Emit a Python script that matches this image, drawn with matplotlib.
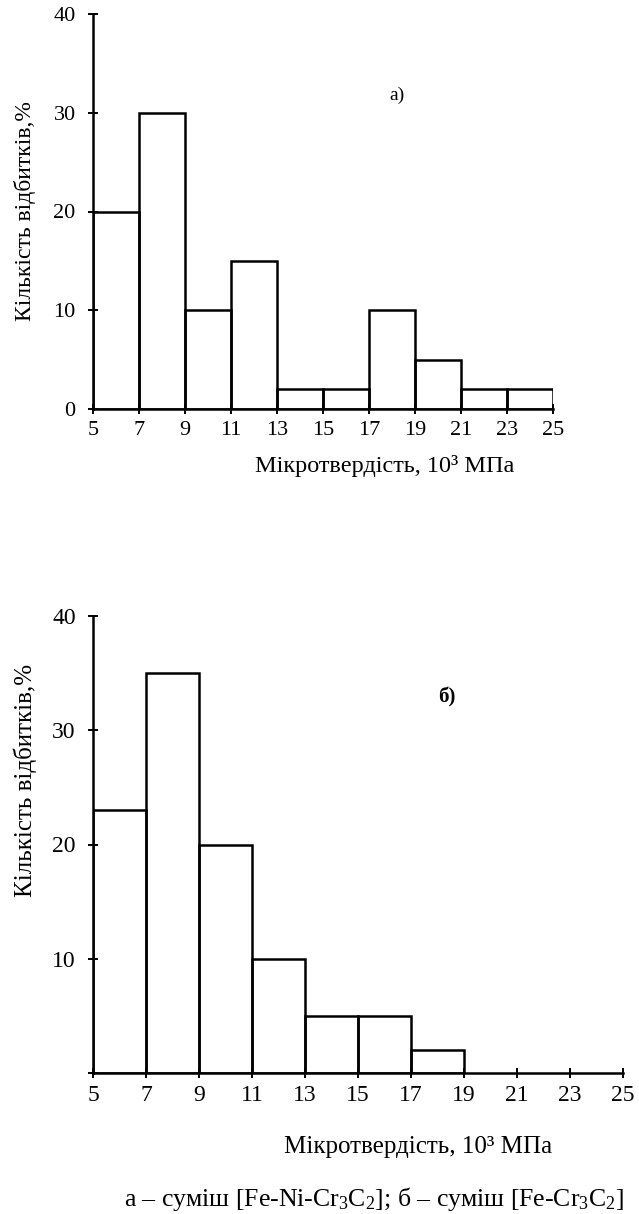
import matplotlib
matplotlib.use("Agg")
import matplotlib.pyplot as plt

plt.rcParams['font.family'] = ['Liberation Serif', 'DejaVu Serif']
plt.rcParams['mathtext.fontset'] = 'custom'
plt.rcParams['mathtext.rm'] = 'Liberation Serif'
plt.rcParams['mathtext.default'] = 'regular'

# Data
bin_edges = [5, 7, 9, 11, 13, 15, 17, 19, 21, 23, 25]
values_a = [20, 30, 10, 15, 2, 2, 10, 5, 2, 2]
values_b = [23, 35, 20, 10, 5, 5, 2, 0, 0, 0]
x_ticks = [5, 7, 9, 11, 13, 15, 17, 19, 21, 23, 25]
y_ticks = [0, 10, 20, 30, 40]
y_ticklabels_a = ['0', '10', '20', '30', '40']
y_ticklabels_b = ['', '10', '20', '30', '40']
xlabel = 'Мікротвердість, 10³ МПа'
ylabel = 'Кількість відбитків,%'
caption = 'а – суміш [Fe-Ni-Cr$_3$C$_2$]; б – суміш [Fe-Cr$_3$C$_2$]'

W, H = 639, 1214
fig = plt.figure(figsize=(W / 100, H / 100), dpi=100)
fig.patch.set_facecolor('white')


def px_axes(x0, y_top, x1, y_bot):
    return fig.add_axes([x0 / W, 1 - y_bot / H, (x1 - x0) / W, (y_bot - y_top) / H])


def style(ax, values, yticklabels, fs):
    widths = [bin_edges[i + 1] - bin_edges[i] for i in range(len(values))]
    lefts = bin_edges[:-1]
    ax.bar([l for l, v in zip(lefts, values) if v > 0],
           [v for v in values if v > 0],
           width=[w for w, v in zip(widths, values) if v > 0],
           align='edge', fill=False, edgecolor='black', linewidth=1.8,
           zorder=3)
    ax.set_xlim(5, 25)
    ax.set_ylim(0, 40)
    for s in ['top', 'right']:
        ax.spines[s].set_visible(False)
    for s in ['left', 'bottom']:
        ax.spines[s].set_linewidth(1.8)
    ax.set_xticks(x_ticks)
    ax.set_xticklabels([str(t) for t in x_ticks])
    ax.set_yticks(y_ticks)
    ax.set_yticklabels(yticklabels)
    ax.tick_params(direction='inout', length=7, width=1.4, labelsize=fs,
                   pad=5)
    ax.tick_params(axis='y', pad=9)
    ax.set_facecolor('none')


ax1 = px_axes(93, 14, 553, 409)
style(ax1, values_a, y_ticklabels_a, 16)
ax2 = px_axes(93, 616, 623, 1073)
style(ax2, values_b, y_ticklabels_b, 17)

fig.text(385 / W, 1 - 466 / H, xlabel, ha='center', va='center', fontsize=17.5)
fig.text(418 / W, 1 - 1147 / H, xlabel, ha='center', va='center', fontsize=18)
fig.text(25 / W, 1 - 211 / H, ylabel, ha='center', va='center', rotation=90, fontsize=17)
fig.text(25 / W, 1 - 780 / H, ylabel, ha='center', va='center', rotation=90, fontsize=18)
fig.text(397 / W, 1 - 95 / H, 'а)', ha='center', va='center', fontsize=14)
fig.text(447 / W, 1 - 697 / H, 'б)', ha='center', va='center', fontsize=15, fontweight='bold')
fig.text(374 / W, 1 - 1199 / H, caption, ha='center', va='center', fontsize=18.5)

fig.savefig('out.png', dpi=100, facecolor='white')
